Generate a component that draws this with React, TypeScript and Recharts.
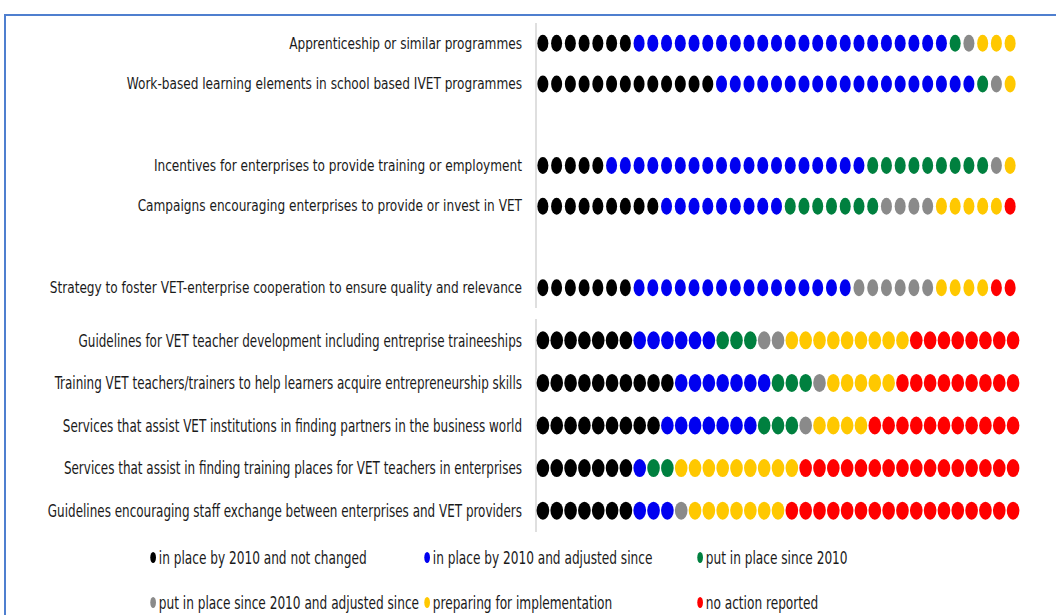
import { ScatterChart, Scatter, XAxis, YAxis } from 'recharts'

// one dot per country (35), counted per row off the picture
const statusNames = [
    'in place by 2010 and not changed',
    'in place by 2010 and adjusted since',
    'put in place since 2010',
    'put in place since 2010 and adjusted since',
    'preparing for implementation',
    'no action reported',
]
const statusColors = ['#000000', '#0000f0', '#00803f', '#8a8a8a', '#ffc800', '#ff0000']

// null = empty spacer row
const topRows = [
    'Apprenticeship or similar programmes',
    'Work-based learning elements in school based IVET programmes',
    null,
    'Incentives for enterprises to provide training or employment',
    'Campaigns encouraging enterprises to provide or invest in VET',
    null,
    'Strategy to foster VET-enterprise cooperation to ensure quality and relevance',
]
const bottomRows = [
    'Guidelines for VET teacher development including entreprise traineeships',
    'Training VET teachers/trainers to help learners acquire entrepreneurship skills',
    'Services that assist VET institutions in finding partners in the business world',
    'Services that assist in finding training places for VET teachers in enterprises',
    'Guidelines encouraging staff exchange between enterprises and VET providers',
]

// counts per row, top rows first then bottom rows
const notChanged = [7, 13, 5, 9, 7, 7, 10, 9, 7, 7]
const adjusted = [23, 19, 19, 9, 16, 6, 7, 7, 1, 3]
const putInPlace = [1, 1, 9, 7, 0, 3, 3, 3, 2, 0]
const putInPlaceAdjusted = [1, 1, 1, 4, 6, 2, 1, 1, 0, 1]
const preparing = [3, 1, 1, 5, 4, 9, 5, 4, 9, 7]
const noAction = [0, 0, 0, 1, 2, 8, 9, 11, 16, 17]

const countsByStatus = [notChanged, adjusted, putInPlace, putInPlaceAdjusted, preparing, noAction]

type Dot = { x: number; y: number }

// turns the counts into one point per dot, per status
const buildDots = (rows: (string | null)[], firstRow: number) => {
    const series: Dot[][] = statusNames.map(() => [])
    let r = firstRow
    rows.forEach((label, slot) => {
        if (label === null) return
        let pos = 1
        countsByStatus.forEach((counts, s) => {
            for (let i = 0; i < counts[r]; i++) {
                series[s].push({ x: pos, y: slot })
                pos++
            }
        })
        r++
    })
    return series
}

const topDots = buildDots(topRows, 0)
const bottomDots = buildDots(bottomRows, 5)

// no narrow font installed, so the text is squeezed with scaleX
const FONT = '"Liberation Sans Narrow", "Arial Narrow", "DejaVu Sans Condensed", sans-serif'

const makeDot = (rx: number, ry: number) => (props: any) => (
    <ellipse cx={props.cx} cy={props.cy} rx={rx} ry={ry} fill={props.fill} />
)

const makeTick = (rows: (string | null)[], size: number, squeeze: number) => (props: any) => {
    const label = rows[props.payload.value] ?? ''
    return (
        <g transform={`translate(${props.x},${props.y})`}>
            <text x={0} y={0} transform={`scale(${squeeze},1)`} textAnchor="end" dominantBaseline="central"
                fontFamily={FONT} fontSize={size} fill="#1a1a1a">
                {label}
            </text>
        </g>
    )
}

const slotTicks = (rows: (string | null)[]) =>
    rows.map((l, i) => (l === null ? -1 : i)).filter(i => i >= 0)

const DotRows = (props: {
    rows: (string | null)[]
    dots: Dot[][]
    width: number
    height: number
    margin: { top: number; right: number; bottom: number; left: number }
    rx: number
    ry: number
    fontSize: number
    squeeze: number
}) => (
    <ScatterChart width={props.width} height={props.height} margin={props.margin}>
        <XAxis type="number" dataKey="x" domain={[0.5, 35.5]} hide />
        <YAxis type="number" dataKey="y" reversed width={536}
            domain={[-0.5, props.rows.length - 0.5]}
            ticks={slotTicks(props.rows)} interval={0}
            tick={makeTick(props.rows, props.fontSize, props.squeeze)}
            tickLine={false} tickSize={0} tickMargin={14}
            axisLine={{ stroke: '#d4d4d4', strokeWidth: 1.5 }} />
        {props.dots.map((d, s) => (
            <Scatter key={statusNames[s]} data={d} fill={statusColors[s]}
                shape={makeDot(props.rx, props.ry)} isAnimationActive={false} />
        ))}
    </ScatterChart>
)

const App = () => {
    const legendPos = [
        { left: 149, top: 547 }, { left: 423, top: 547 }, { left: 696, top: 547 },
        { left: 149, top: 592 }, { left: 423, top: 592 }, { left: 696, top: 592 },
    ]
    return (
        <div style={{ position: 'fixed', left: 0, top: 0, width: 1056, height: 615, overflow: 'hidden', background: '#fff' }}>
            <div style={{ position: 'absolute', left: 4, top: 14, width: 1100, height: 700, borderLeft: '2px solid #4f7fcf', borderTop: '2px solid #4f7fcf' }} />
            <div style={{ position: 'absolute', left: 0, top: 0 }}>
                <DotRows rows={topRows} dots={topDots} width={1040} height={310}
                    margin={{ top: 23, right: 23, bottom: 2, left: 0 }}
                    rx={5.5} ry={8.5} fontSize={15} squeeze={0.9} />
            </div>
            <div style={{ position: 'absolute', left: 0, top: 300 }}>
                <DotRows rows={bottomRows} dots={bottomDots} width={1040} height={240}
                    margin={{ top: 19, right: 20, bottom: 8, left: 0 }}
                    rx={6.3} ry={9} fontSize={18} squeeze={0.74} />
            </div>
            {statusNames.map((name, i) => (
                <div key={name} style={{ position: 'absolute', left: legendPos[i].left, top: legendPos[i].top, display: 'flex', alignItems: 'center', fontFamily: FONT, fontSize: 18, color: '#1a1a1a', whiteSpace: 'nowrap', transform: 'scaleX(0.75)', transformOrigin: 'left center' }}>
                    <svg width={11} height={13} style={{ marginRight: 2 }}>
                        <ellipse cx={5.5} cy={6.5} rx={3.8} ry={5.5} fill={statusColors[i]} />
                    </svg>
                    {name}
                </div>
            ))}
        </div>
    )
}

export default App
